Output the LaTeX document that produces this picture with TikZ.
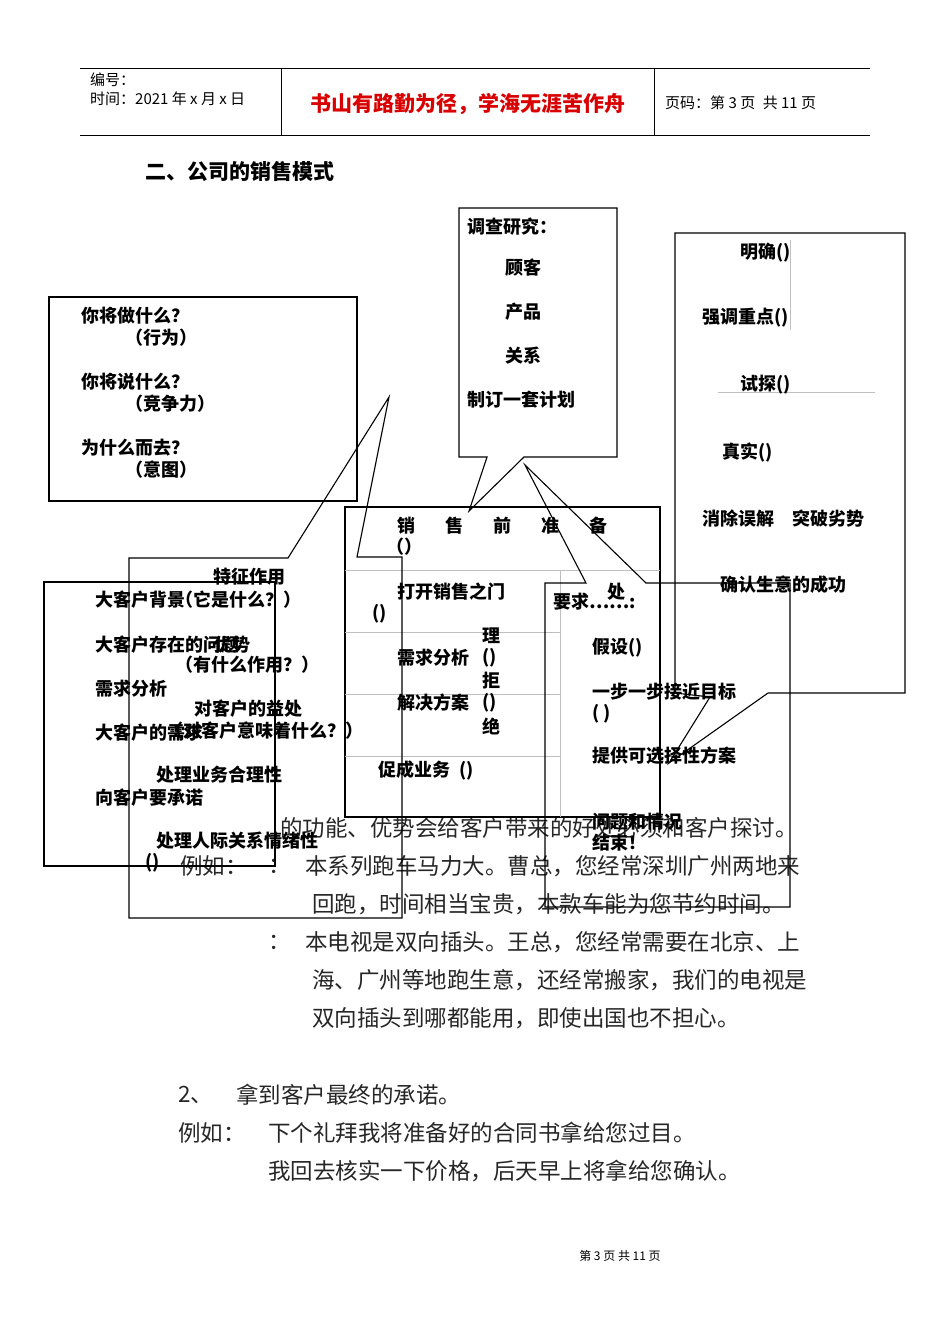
\documentclass[tikz,border=0pt]{standalone}
\usepackage{fontspec}
\setmainfont{Noto Sans CJK SC}
\begin{document}
\begin{tikzpicture}[x=1pt,y=-1pt,
 lb/.style={anchor=west,inner sep=0pt,font=\fontsize{18}{18}\selectfont\bfseries},
 bt/.style={anchor=west,inner sep=0pt,font=\fontsize{22.5}{22.5}\selectfont,text=black!85},
 hd/.style={anchor=west,inner sep=0pt,font=\fontsize{15}{15}\selectfont},
 bx/.style={draw,line width=1.1pt},
 gl/.style={draw=black!25,line width=0.6pt}]
\useasboundingbox[fill=white] (0,0) rectangle (950,1344);
% header
\draw[line width=0.6pt] (80,68) -- (870,68) (80,135) -- (870,135) (281,68) -- (281,135) (654,68) -- (654,135);
\node[hd] (h1) at (90,80) {编号：};
\node[hd] (h2) at (90,99) {时间：2021 年 x 月 x 日};
\node[inner sep=0pt,font=\fontsize{21}{21}\selectfont\bfseries,text=red!85!black] (h3) at (468,104) {书山有路勤为径，学海无涯苦作舟};
\node[hd] (h4) at (665,103) {页码：第 3 页\enspace 共 11 页};
\node[anchor=west,inner sep=0pt,font=\fontsize{21}{21}\selectfont\bfseries] (t) at (145,172) {二、公司的销售模式};
% body text
\node[bt] (b1) at (280,828) {的功能、优势会给客户带来的好处必须和客户探讨。};
\node[bt] (b2) at (180,866) {例如：};
\node[bt] (b3) at (268,866) {：};
\node[bt] (b4) at (305,866) {本系列跑车马力大。曹总，您经常深圳广州两地来};
\node[bt] (b5) at (312,904) {回跑，时间相当宝贵，本款车能为您节约时间。};
\node[bt] (b6) at (268,942) {：};
\node[bt] (b7) at (305,942) {本电视是双向插头。王总，您经常需要在北京、上};
\node[bt] (b8) at (312,980) {海、广州等地跑生意，还经常搬家，我们的电视是};
\node[bt] (b9) at (312,1018) {双向插头到哪都能用，即使出国也不担心。};
\node[bt] (b10) at (178,1095) {2、};
\node[bt] (b11) at (236,1095) {拿到客户最终的承诺。};
\node[bt] (b12) at (178,1133) {例如：};
\node[bt] (b13) at (268,1133) {下个礼拜我将准备好的合同书拿给您过目。};
\node[bt] (b14) at (268,1171) {我回去核实一下价格，后天早上将拿给您确认。};
\node[inner sep=0pt,font=\fontsize{12}{12}\selectfont] (ft) at (620,1256) {第 3 页 共 11 页};
% box A
\draw[bx] (49,297) rectangle (357,501);
\node[lb] (a1) at (81,316) {你将做什么？};
\node[lb] (a2) at (125,338) {（行为）};
\node[lb] (a3) at (81,382) {你将说什么？};
\node[lb] (a4) at (125,404) {（竞争力）};
\node[lb] (a5) at (81,448) {为什么而去？};
\node[lb] (a6) at (125,470) {（意图）};
% box B
\draw[bx] (459,208) -- (617,208) -- (617,457) -- (524,457) -- (469,511) -- (487,457) -- (459,457) -- cycle;
\node[lb] (c1) at (467,227) {调查研究：};
\node[lb] (c2) at (505,268) {顾客};
\node[lb] (c3) at (505,312) {产品};
\node[lb] (c4) at (505,356) {关系};
\node[lb] (c5) at (467,400) {制订一套计划};
% box C
\draw[bx] (675,233) -- (905,233) -- (905,693) -- (768,693) -- (669,763) -- (710,697) -- (675,693) -- cycle;
\draw[gl] (790,240) -- (790,330) (718,392) -- (875,392);
\node[lb] (r1) at (740,253) {明确()};
\node[lb] (r2) at (702,318) {强调重点()};
\node[lb] (r3) at (740,385) {试探()};
\node[lb] (r4) at (722,452) {真实()};
\node[lb] (r5) at (702,519) {消除误解\quad 突破劣势};
\node[lb] (r6) at (720,585) {确认生意的成功};
% box D
\draw[bx] (345,507) rectangle (660,817);
\draw[gl] (345,570) -- (660,570) (345,632) -- (560,632) (345,694) -- (560,694) (345,756) -- (560,756) (560,570) -- (560,817);
\foreach \x/\c in {397/销,445/售,493/前,541/准,589/备} \node[lb] at (\x,526) {\c};
\node[lb] (d1) at (386,547) {（）};
\node[lb] (d2) at (397,592) {打开销售之门};
\node[lb] (d3) at (372,614) {()};
\node[lb] (d4) at (397,658) {需求分析};
\node[lb] (d5) at (482,636) {理};
\node[lb] (d6) at (482,658) {()};
\node[lb] (d7) at (482,681) {拒};
\node[lb] (d8) at (397,703) {解决方案};
\node[lb] (d9) at (482,703) {()};
\node[lb] (d10) at (482,726) {绝};
\node[lb] (d11) at (378,770) {促成业务\enspace()};
% box E
\draw[bx] (129,558) -- (288,558) -- (389,397) -- (357,557) -- (402,557) -- (402,918) -- (129,918) -- cycle;
\node[lb] (e1) at (213,577) {特征作用};
\node[lb] (e2) at (175,600) {（它是什么？）};
\node[lb] (e3) at (214,645) {优势};
\node[lb] (e4) at (175,665) {（有什么作用？）};
\node[lb] (e5) at (194,709) {对客户的益处};
\node[lb] (e6) at (165,731) {（对客户意味着什么？）};
\node[lb] (e7) at (156,775) {处理业务合理性};
\node[lb] (e8) at (156,841) {处理人际关系情绪性};
\node[lb] (e9) at (145,863) {()};
% box F
\draw[bx] (44,582) rectangle (275,866);
\node[lb] (f1) at (95,600) {大客户背景};
\node[lb] (f2) at (95,645) {大客户存在的问题};
\node[lb] (f3) at (95,689) {需求分析};
\node[lb] (f4) at (95,733) {大客户的需求};
\node[lb] (f5) at (95,798) {向客户要承诺};
% box G
\draw[bx] (545,583) -- (586,583) -- (525,465) -- (646,583) -- (790,583) -- (790,907) -- (545,907) -- cycle;
\node[lb] (g1) at (553,602) {要求……:};
\node[lb] (g2) at (607,592) {处};
\node[lb] (g3) at (592,648) {假设()};
\node[lb] (g4) at (592,692) {一步一步接近目标};
\node[lb] (g5) at (592,714) {( )};
\node[lb] (g6) at (592,756) {提供可选择性方案};
\node[lb] (g7) at (592,822) {问题和情况};
\node[lb] (g8) at (592,843) {结束！};
\end{tikzpicture}
\end{document}
